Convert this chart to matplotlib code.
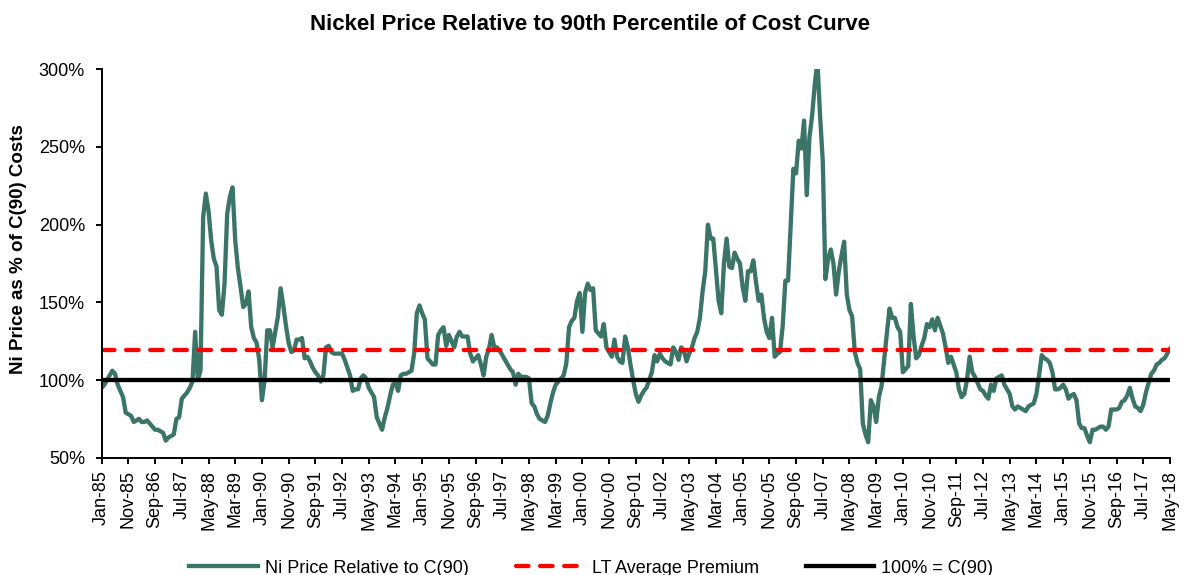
import numpy as np
import matplotlib
matplotlib.use("Agg")
import matplotlib.pyplot as plt

plt.rcParams['font.family'] = ['Liberation Sans', 'DejaVu Sans']

# monthly Ni price as % of C(90) cost, Jan-85 .. May-18 (one row per year)
ratio = [
    95, 97, 100, 103, 106, 104, 97, 93, 89, 79, 78, 77,            # 1985
    73, 74, 75, 73, 73, 74, 72, 70, 68, 68, 67, 66,                # 1986
    61, 63, 64, 65, 75, 76, 88, 90, 92, 95, 99, 131,               # 1987
    100, 106, 205, 220, 209, 190, 178, 173, 145, 142, 162, 207,    # 1988
    218, 224, 190, 172, 160, 147, 149, 157, 134, 127, 124, 113,    # 1989
    87, 100, 132, 132, 121, 131, 141, 159, 148, 135, 124, 118,     # 1990
    119, 126, 126, 127, 114, 115, 112, 108, 105, 103, 99, 103,     # 1991
    121, 122, 118, 117, 117, 117, 117, 113, 108, 103, 93, 94,      # 1992
    94, 101, 103, 101, 95, 92, 89, 76, 72, 68, 76, 82,             # 1993
    90, 97, 98, 93, 103, 104, 104, 105, 106, 117, 143, 148,        # 1994
    143, 139, 114, 112, 110, 110, 129, 132, 134, 122, 129, 125,    # 1995
    121, 128, 131, 128, 128, 128, 117, 112, 114, 116, 110, 103,    # 1996
    115, 120, 129, 121, 121, 119, 116, 113, 110, 107, 105, 97,     # 1997
    104, 102, 102, 102, 101, 85, 83, 78, 75, 74, 73, 77,           # 1998
    85, 92, 97, 99, 101, 103, 111, 134, 138, 140, 151, 156,        # 1999
    131, 156, 162, 158, 159, 132, 130, 128, 136, 121, 118, 115,    # 2000
    126, 115, 112, 111, 128, 121, 110, 100, 91, 86, 90, 93,        # 2001
    95, 100, 105, 116, 112, 117, 114, 112, 111, 110, 121, 118,     # 2002
    113, 121, 119, 112, 117, 121, 127, 131, 140, 157, 170, 200,    # 2003
    191, 191, 171, 151, 143, 175, 191, 173, 172, 182, 178, 175,    # 2004
    160, 151, 170, 170, 177, 163, 151, 155, 140, 131, 127, 140,    # 2005
    115, 117, 118, 135, 164, 164, 200, 236, 233, 254, 249, 267,    # 2006
    219, 256, 270, 290, 305, 270, 241, 165, 178, 184, 175, 155,    # 2007
    170, 180, 189, 155, 145, 141, 118, 111, 107, 72, 65, 60,       # 2008
    87, 83, 73, 89, 96, 113, 130, 146, 140, 140, 134, 131,         # 2009
    105, 107, 109, 149, 128, 114, 116, 122, 127, 136, 134, 139,    # 2010
    132, 140, 135, 130, 121, 111, 115, 110, 105, 94, 89, 91,       # 2011
    100, 115, 105, 102, 98, 94, 93, 90, 88, 97, 93, 101,           # 2012
    102, 103, 97, 94, 91, 83, 81, 83, 82, 81, 80, 83,              # 2013
    84, 85, 91, 103, 116, 114, 113, 111, 105, 94, 94, 95,          # 2014
    97, 94, 88, 90, 91, 87, 72, 69, 69, 64, 60, 68,                # 2015
    68, 69, 70, 70, 68, 70, 81, 81, 81, 82, 86, 87,                # 2016
    90, 95, 88, 83, 82, 80, 84, 92, 98, 104, 106, 110,             # 2017
    111, 113, 114, 117, 120,                                       # 2018
]
lt_premium = 119
base_level = 100

x_labels = ['Jan-85', 'Nov-85', 'Sep-86', 'Jul-87', 'May-88', 'Mar-89', 'Jan-90',
            'Nov-90', 'Sep-91', 'Jul-92', 'May-93', 'Mar-94', 'Jan-95', 'Nov-95',
            'Sep-96', 'Jul-97', 'May-98', 'Mar-99', 'Jan-00', 'Nov-00', 'Sep-01',
            'Jul-02', 'May-03', 'Mar-04', 'Jan-05', 'Nov-05', 'Sep-06', 'Jul-07',
            'May-08', 'Mar-09', 'Jan-10', 'Nov-10', 'Sep-11', 'Jul-12', 'May-13',
            'Mar-14', 'Jan-15', 'Nov-15', 'Sep-16', 'Jul-17', 'May-18']
y_ticks = [50, 100, 150, 200, 250, 300]
y_labels = ['50%', '100%', '150%', '200%', '250%', '300%']

months = np.arange(len(ratio))

fig = plt.figure(figsize=(11.85, 5.75), dpi=100)
ax = fig.add_axes([0.0858, 0.204, 0.9015, 0.6755])

ax.plot(months, ratio, color='#3B7568', lw=3.1, solid_joinstyle='round',
        label='Ni Price Relative to C(90)')
ax.axhline(lt_premium, color='#FF0000', lw=3.1, dashes=(2.9, 2.7),
           dash_capstyle='round', label='LT Average Premium')
ax.axhline(base_level, color='black', lw=3.1, label='100% = C(90)')

ax.set_xlim(0, len(ratio) - 1)
ax.set_ylim(50, 300)
ax.set_xticks(np.arange(0, len(ratio), 10))
ax.set_xticklabels(x_labels, rotation=90, fontsize=13)
ax.set_yticks(y_ticks)
ax.set_yticklabels(y_labels, fontsize=13)

for side in ['top', 'right']:
    ax.spines[side].set_visible(False)
for side in ['left', 'bottom']:
    ax.spines[side].set_linewidth(1.4)
ax.tick_params(axis='both', direction='out', length=4, width=1.4)
ax.tick_params(axis='y', pad=8)
ax.tick_params(axis='x', pad=5)

fig.text(0.498, 0.957, 'Nickel Price Relative to 90th Percentile of Cost Curve',
         ha='center', va='center', fontsize=16, fontweight='bold')
fig.text(0.016, 1 - 249 / 575, 'Ni Price as % of C(90) Costs', rotation=90,
         ha='center', va='center', fontsize=13.5, fontweight='bold')

fig.legend(loc='center', bbox_to_anchor=(0.499, 0.012), ncol=3, frameon=False,
           fontsize=13, handlelength=3.8, handletextpad=0.4, columnspacing=2.6)

fig.savefig('out.png', dpi=100)
